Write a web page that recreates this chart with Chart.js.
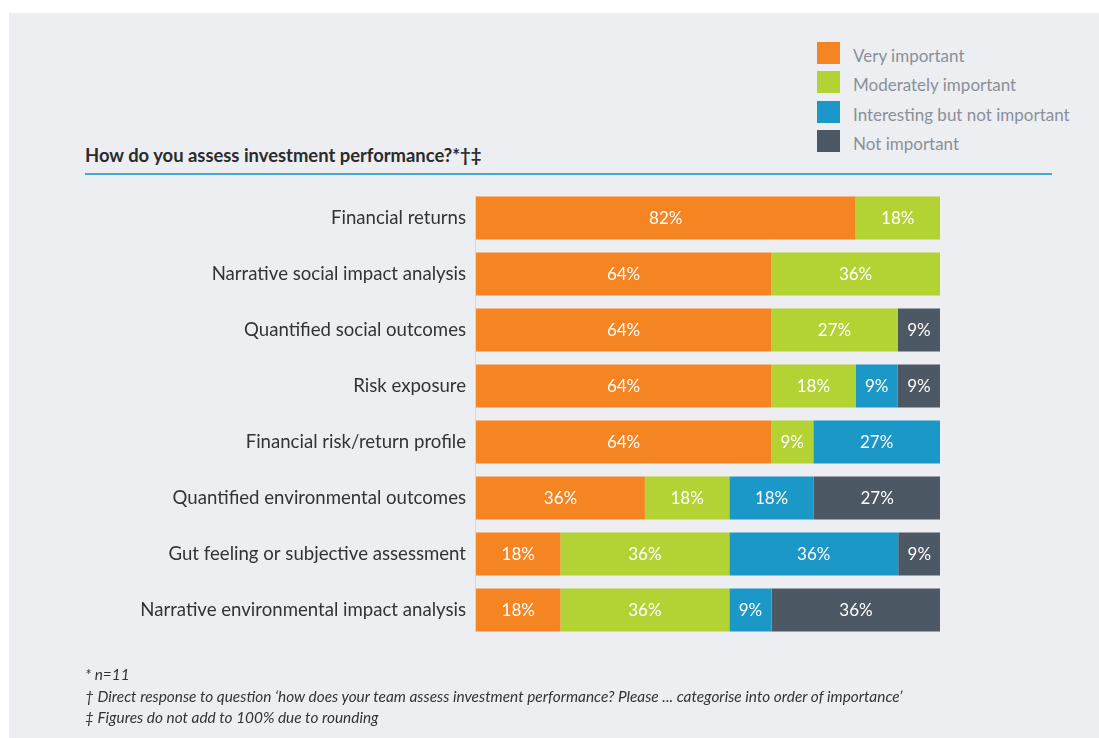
<!doctype html>
<html lang="en">

<head>
    <meta charset="utf-8">
    <title>How do you assess investment performance?</title>
    <style>
        body { margin: 0; background: #fff; font-family: Lato, "Open Sans", sans-serif; }
        #wrap { position: relative; width: 1099px; height: 738px; overflow: hidden; }
        #panel { position: absolute; left: 9px; top: 13px; right: 0; bottom: 0; background: #edeef2; }
        #myChart { position: absolute; left: 0; top: 0; }
        .title { position: absolute; left: 85px; top: 144px; font-weight: bold; font-size: 18.4px; color: #2b2b2b; white-space: nowrap; }
        .rule { position: absolute; left: 85px; top: 173px; width: 967px; height: 2px; background: #45a8d4; }
        .legend-item { position: absolute; left: 817px; height: 22px; white-space: nowrap; }
        .legend-item span.box { position: absolute; left: 0; top: 0; width: 23px; height: 22px; }
        .legend-item span.txt { position: absolute; left: 36px; top: 3px; font-size: 17px; color: #8a9099; line-height: 22px; }
        .notes { position: absolute; left: 85px; top: 664px; font-style: italic; font-size: 15.4px; line-height: 21.5px; color: #333; white-space: nowrap; }
    </style>
</head>

<body>
    <div id="wrap">
        <div id="panel"></div>
        <div class="title">How do you assess investment performance?*†‡</div>
        <div class="rule"></div>
        <div id="legend"></div>
        <canvas id="myChart" width="1099" height="738"></canvas>
        <div class="notes">
            * n=11<br>
            † Direct response to question ‘how does your team assess investment performance? Please ... categorise into order of importance’<br>
            ‡ Figures do not add to 100% due to rounding
        </div>
    </div>

    <script src="https://cdn.jsdelivr.net/npm/chart.js"></script>
    <script>
        var categories = ['Financial returns', 'Narrative social impact analysis', 'Quantified social outcomes',
            'Risk exposure', 'Financial risk/return profile', 'Quantified environmental outcomes',
            'Gut feeling or subjective assessment', 'Narrative environmental impact analysis'];
        var seriesNames = ['Very important', 'Moderately important', 'Interesting but not important', 'Not important'];
        var veryImportant = [81.8, 63.6, 63.6, 63.6, 63.6, 36.4, 18.2, 18.2];
        var moderatelyImportant = [18.2, 36.4, 27.3, 18.2, 9.1, 18.2, 36.4, 36.4];
        var interesting = [0, 0, 0, 9.1, 27.3, 18.2, 36.4, 9.1];
        var notImportant = [0, 0, 9.1, 9.1, 0, 27.3, 9.1, 36.4];
        var colors = ['#f58423', '#b3d335', '#1b98c7', '#4c5863'];

        var seriesData = [veryImportant, moderatelyImportant, interesting, notImportant];

        // legend built by hand, the Chart.js one can't stack vertically up in the corner
        var legend = document.getElementById('legend');
        seriesNames.forEach(function (name, i) {
            var item = document.createElement('div');
            item.className = 'legend-item';
            item.style.top = (42 + i * 29.3) + 'px';
            item.innerHTML = '<span class="box" style="background:' + colors[i] + '"></span><span class="txt">' + name + '</span>';
            legend.appendChild(item);
        });

        const barLabels = {
            id: 'barLabels',
            beforeDatasetsDraw(chart) {
                // thin axis line, only as tall as the bars
                const bars = chart.getDatasetMeta(0).data;
                const first = bars[0], last = bars[bars.length - 1];
                const ctx = chart.ctx;
                ctx.save();
                ctx.strokeStyle = '#d5d6da';
                ctx.lineWidth = 1;
                ctx.beginPath();
                ctx.moveTo(chart.chartArea.left - 0.5, first.y - first.height / 2);
                ctx.lineTo(chart.chartArea.left - 0.5, last.y + last.height / 2);
                ctx.stroke();
                ctx.restore();
            },
            afterDatasetsDraw(chart) {
                const ctx = chart.ctx;
                ctx.save();
                ctx.font = '17px Lato';
                ctx.fillStyle = '#fff';
                ctx.textAlign = 'center';
                ctx.textBaseline = 'middle';
                chart.data.datasets.forEach((ds, i) => {
                    chart.getDatasetMeta(i).data.forEach((bar, j) => {
                        const v = ds.data[j];
                        if (!v) return;
                        ctx.fillText(Math.round(v) + '%', (bar.x + bar.base) / 2, bar.y + 1);
                    });
                });
                ctx.restore();
            }
        };

        let barChart = new Chart('myChart', {
            type: 'bar',
            data: {
                labels: categories,
                datasets: seriesData.map(function (d, i) {
                    return {
                        label: seriesNames[i],
                        data: d,
                        backgroundColor: colors[i],
                        borderWidth: 0,
                        categoryPercentage: 1,
                        barPercentage: 0.77
                    };
                })
            },
            options: {
                indexAxis: 'y',
                responsive: false,
                animation: false,
                layout: { padding: { top: 190, bottom: 100, left: 0, right: 159 } },
                plugins: {
                    legend: { display: false },
                    tooltip: { enabled: false }
                },
                scales: {
                    x: { stacked: true, min: 0, max: 100, display: false },
                    y: {
                        stacked: true,
                        grid: { display: false, drawTicks: false },
                        border: { display: false },
                        ticks: { font: { family: 'Lato', size: 18.6 }, color: '#333', padding: 10 },
                        afterFit: function (s) { s.width = 476; }
                    }
                }
            },
            plugins: [barLabels]
        });
    </script>
</body>

</html>
